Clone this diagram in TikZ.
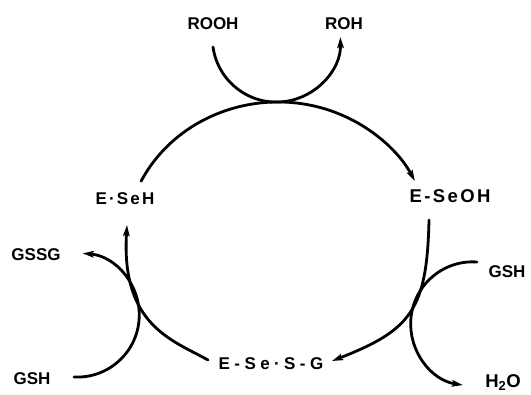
\documentclass[tikz,border=0pt]{standalone}
\usepackage{fontspec}
\setmainfont{Liberation Sans}
\newfontfamily\spacedfont{Liberation Sans}[LetterSpace=13]
\newfontfamily\widefont{Liberation Sans}[LetterSpace=26]
\usetikzlibrary{arrows.meta,calc}
\begin{document}
\begin{tikzpicture}[x=1pt,y=-1pt,
  lbl/.style={font=\fontsize{17}{17}\selectfont\bfseries, inner sep=0pt},
  biglbl/.style={font=\fontsize{18.5}{18.5}\selectfont\bfseries, inner sep=0pt},
  flow/.style={line width=2.8pt, line cap=round},
  arr/.style={flow, -{Stealth[length=11pt,width=6.5pt,inset=2pt]}}]
\fill[white] (0,0) rectangle (531,395);
\useasboundingbox (0,0) rectangle (531,395);
% labels
\node[lbl] (rooh) at (213,24) {ROOH};
\node[lbl] (roh) at (344,24) {ROH};
\node[lbl] (eseh) at (125,199) {\spacedfont\bfseries E·SeH};
\node[biglbl] (eseoh) at (450,196) {\spacedfont\bfseries E-SeOH};
\node[lbl] (gssg) at (36,255) {GSSG};
\node[lbl] (gshl) at (32,379) {GSH};
\node[lbl] (gshr) at (507,272) {GSH};
\node[biglbl, anchor=base] (water) at (503,387.5) {H\textsubscript{2}O};
\node[lbl] (esesg) at (271,364) {\widefont\bfseries E-Se·S-G};
% cycle
\coordinate (c) at (278,245);
\path (c) ++(-153.5:153 and 143) coordinate (t0);
\coordinate (r0) at (429,220);
\coordinate (r1) at (332,361);
\coordinate (l0) at (208,360);
\coordinate (l1) at (127,225);
\draw[arr] (t0) arc[start angle=-153.5, end angle=-26.6, x radius=153, y radius=143];
\draw[arr] (r0) .. controls +(-2,90) and +(79,-31) .. (r1);
\draw[arr] (l0) .. controls +(-36,-20) and +(-6,100) .. (l1);
% side reactions
\coordinate (a0) at (213,47);
\coordinate (b0) at (477,262);
\coordinate (d0) at (74,377);
\draw[arr] (a0) arc[start angle=172, end angle=-1, radius=64];
\draw[arr] (b0) arc[start angle=-86, end angle=-261, radius=62];
\draw[arr] (d0) arc[start angle=93, end angle=-85, radius=62];
\end{tikzpicture}
\end{document}
